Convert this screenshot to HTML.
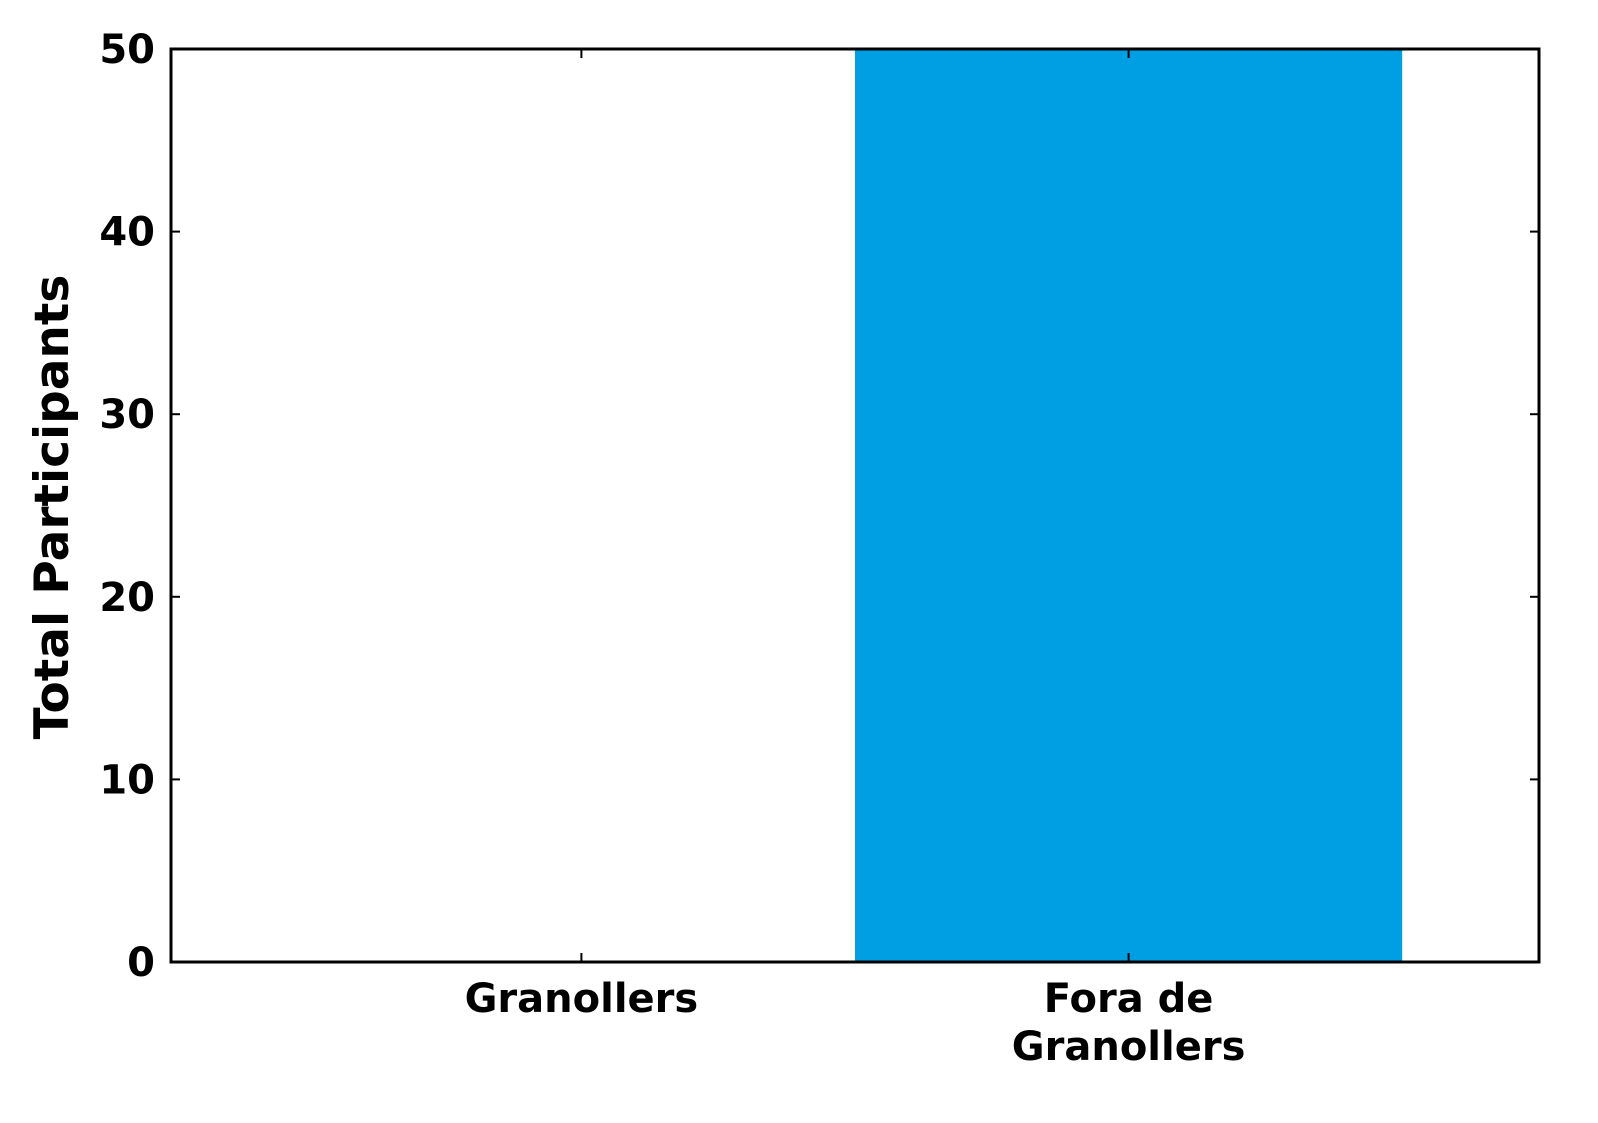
<!DOCTYPE html>
<html><head><meta charset="utf-8"><style>
html,body{margin:0;padding:0;background:#fff;}
svg text{font-family:"DejaVu Sans","Liberation Sans",sans-serif;font-weight:bold;fill:#000;}
</style></head><body>
<svg id="chart" width="1598" height="1118" viewBox="0 0 1598 1118">
<defs><clipPath id="plotclip"><rect x="171" y="49" width="1368" height="913"/></clipPath></defs>
<g id="bars" clip-path="url(#plotclip)"></g>
<g id="axes"></g>
<text x="68" y="507" font-size="47" text-anchor="middle" transform="rotate(-90 68 507)">Total Participants</text>
</svg>
<script>
const categories = ["Granollers", "Fora de\nGranollers"];
const values = [0, 50];
const yTicks = [0, 10, 20, 30, 40, 50];
const yTickLabels = ["0", "10", "20", "30", "40", "50"];

const L = 171, R = 1539, T = 49, B = 962;
const xMin = -0.75, xMax = 1.75, yMin = 0, yMax = 50;
const barWidth = 1.0;
function xs(v){ return L + (v - xMin) / (xMax - xMin) * (R - L); }
function ys(v){ return B - (v - yMin) / (yMax - yMin) * (B - T); }
const NS = "http://www.w3.org/2000/svg";
function mk(tag, attrs){ const e = document.createElementNS(NS, tag); for (const k in attrs) e.setAttribute(k, attrs[k]); return e; }
const bars = document.getElementById('bars');
const axes = document.getElementById('axes');
values.forEach((v, i) => {
  const x0 = xs(i - barWidth/2), x1 = xs(i + barWidth/2);
  const y0 = ys(Math.max(v, 0)), y1 = ys(0);
  const r = mk('rect', {x: x0, y: y0, width: x1 - x0, height: y1 - y0, fill: '#009fe3'});
  
  
  bars.appendChild(r);
});
const frame = mk('rect', {x: L, y: T, width: R - L, height: B - T, fill: 'none', stroke: '#000', 'stroke-width': 3});


axes.appendChild(frame);
yTicks.forEach((t, i) => {
  const y = ys(t);
  axes.appendChild(mk('line', {x1: L, x2: L + 9, y1: y, y2: y, stroke: '#000', 'stroke-width': 2}));
  axes.appendChild(mk('line', {x1: R - 9, x2: R, y1: y, y2: y, stroke: '#000', 'stroke-width': 2}));
  const tx = mk('text', {x: L - 16, y: y + 14, 'font-size': 40, 'text-anchor': 'end'});
  tx.textContent = yTickLabels[i];
  
  
  axes.appendChild(tx);
});
categories.forEach((c, i) => {
  const x = xs(i);
  axes.appendChild(mk('line', {x1: x, x2: x, y1: B, y2: B - 9, stroke: '#000', 'stroke-width': 2}));
  axes.appendChild(mk('line', {x1: x, x2: x, y1: T, y2: T + 9, stroke: '#000', 'stroke-width': 2}));
  const lines = c.split("\n");
  lines.forEach((ln, j) => {
    const tx = mk('text', {x: x, y: 1012 + j * 48, 'font-size': 40, 'text-anchor': 'middle'});
    tx.textContent = ln;
    
    
    axes.appendChild(tx);
  });
});
</script>
</body></html>
